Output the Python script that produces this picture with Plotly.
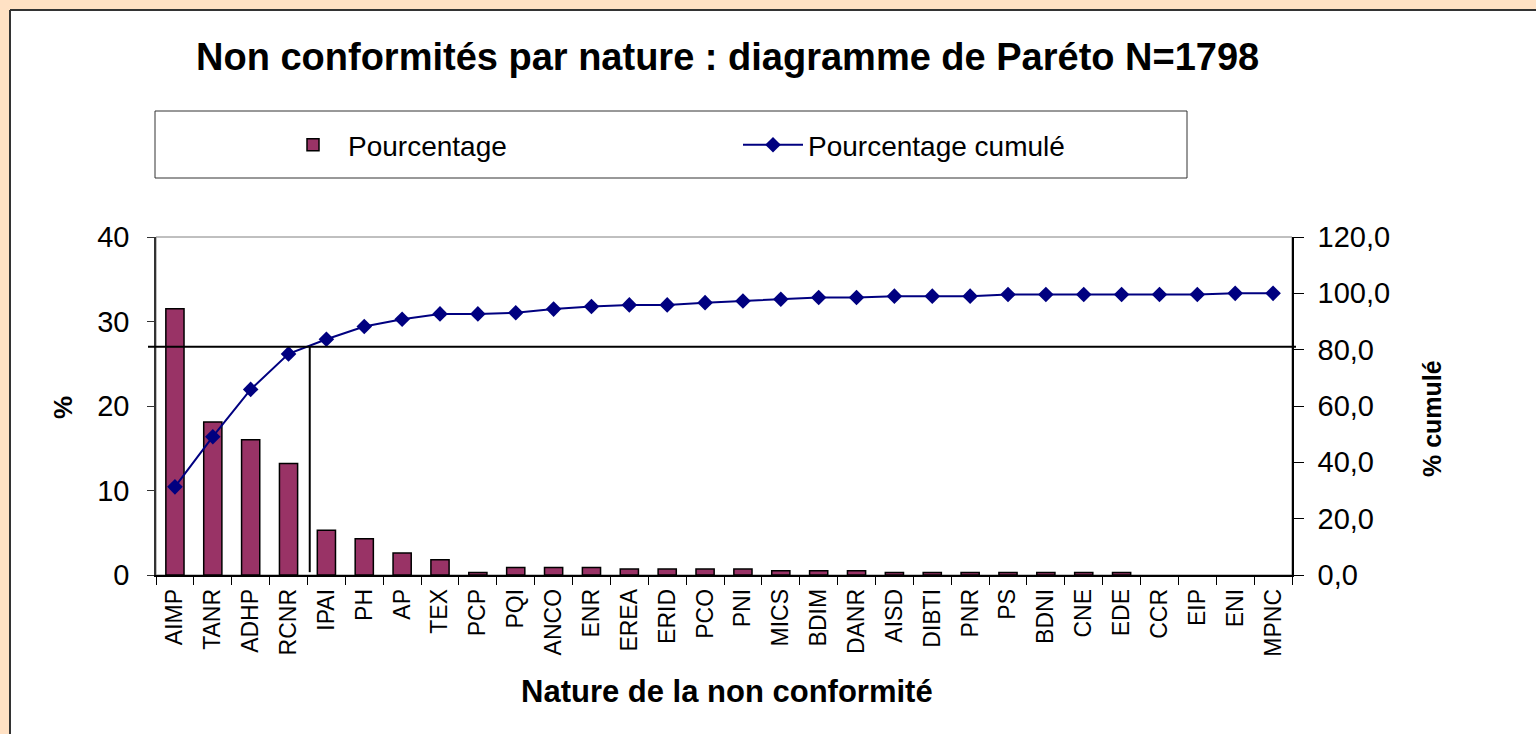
import plotly.graph_objects as go

categories = ["AIMP", "TANR", "ADHP", "RCNR", "IPAI", "PH", "AP", "TEX", "PCP", "PQI",
              "ANCO", "ENR", "EREA", "ERID", "PCO", "PNI", "MICS", "BDIM", "DANR", "AISD",
              "DIBTI", "PNR", "PS", "BDNI", "CNE", "EDE", "CCR", "EIP", "ENI", "MPNC"]
pourcentage = [31.5, 18.1, 16.0, 13.2, 5.3, 4.3, 2.6, 1.8, 0.3, 0.9,
               0.9, 0.9, 0.7, 0.7, 0.7, 0.7, 0.5, 0.5, 0.5, 0.3,
               0.3, 0.3, 0.3, 0.3, 0.3, 0.3, 0.0, 0.0, 0.0, 0.0]
cumule = [31.3, 49.1, 65.9, 78.5, 83.7, 88.2, 90.8, 92.7, 92.7, 93.1,
          94.4, 95.3, 95.9, 95.9, 96.7, 97.3, 97.9, 98.5, 98.5, 99.0,
          99.0, 99.0, 99.6, 99.6, 99.6, 99.6, 99.6, 99.6, 100.0, 100.0]
left_ticks = [0, 10, 20, 30, 40]
right_ticks = [0, 20, 40, 60, 80, 100, 120]
right_labels = ["0,0", "20,0", "40,0", "60,0", "80,0", "100,0", "120,0"]
seuil = 81  # 80 % threshold line (right axis)

FONT = "Liberation Sans, Arial, sans-serif"
W, H = 1536, 734
L, R, T, B = 156, 1292, 237, 575


def px(x):
    return (x - L) / (R - L)


def py(y):
    return (B - y) / (B - T)


outline_widths = [1.5 if v > 0 else 0 for v in pourcentage]

fig = go.Figure()
fig.add_trace(go.Bar(
    x=categories, y=pourcentage, name="Pourcentage",
    marker=dict(color="#993366", line=dict(color="black", width=outline_widths)),
    yaxis="y",
))
fig.add_trace(go.Scatter(
    x=categories, y=cumule, name="Pourcentage cumulé", mode="lines+markers",
    line=dict(color="#000080", width=2),
    marker=dict(symbol="diamond", size=12, color="#000080"),
    yaxis="y2",
))

shapes = [
    # white chart area
    dict(type="rect", xref="paper", yref="paper", x0=px(10), x1=px(W + 5), y0=py(10), y1=py(H + 5),
         fillcolor="white", line=dict(width=0), layer="below"),
    dict(type="line", xref="paper", yref="paper", x0=px(10), x1=px(10), y0=py(10), y1=py(H + 5),
         line=dict(color="#333333", width=2), layer="below"),
    dict(type="line", xref="paper", yref="paper", x0=px(10), x1=px(W + 5), y0=py(10), y1=py(10),
         line=dict(color="#333333", width=2), layer="below"),
    # legend box
    dict(type="rect", xref="paper", yref="paper", x0=px(155), x1=px(1187), y0=py(111), y1=py(178),
         fillcolor="white", line=dict(color="#333333", width=1), layer="below"),
    # plot area border (gray)
    dict(type="rect", xref="paper", yref="paper", x0=0, x1=1, y0=0, y1=1,
         line=dict(color="#808080", width=1), layer="below"),
    # 80% threshold lines
    dict(type="line", xref="paper", yref="y2", x0=px(148), x1=px(1296), y0=seuil, y1=seuil,
         line=dict(color="black", width=2)),
    dict(type="line", xref="x", yref="y2", x0=3.56, x1=3.56, y0=1, y1=seuil,
         line=dict(color="black", width=2)),
]

annotations = [
    dict(text="<b>Non conformités par nature : diagramme de Paréto N=1798</b>",
         xref="paper", yref="paper", x=px(727), y=py(57), showarrow=False,
         font=dict(size=38, color="black", family=FONT), xanchor="center", yanchor="middle"),
    dict(text="<b>%</b>", xref="paper", yref="paper", x=px(63), y=py(408), showarrow=False,
         textangle=-90, font=dict(size=26, color="black", family=FONT), xanchor="center", yanchor="middle"),
    dict(text="<b>% cumulé</b>", xref="paper", yref="paper", x=px(1432), y=py(419), showarrow=False,
         textangle=-90, font=dict(size=25, color="black", family=FONT), xanchor="center", yanchor="middle"),
    dict(text="<b>Nature de la non conformité</b>", xref="paper", yref="paper", x=px(727), y=py(691),
         showarrow=False, font=dict(size=31, color="black", family=FONT), xanchor="center", yanchor="middle"),
]

fig.update_layout(
    width=W, height=H,
    margin=dict(l=L, r=W - R, t=T, b=H - B, pad=0),
    paper_bgcolor="#FFE1C4",
    plot_bgcolor="#FFFFCC",
    font=dict(family=FONT, color="black"),
    bargap=0.52,
    showlegend=True,
    legend=dict(orientation="h", x=px(278), y=py(145), xanchor="left", yanchor="middle",
                bgcolor="rgba(0,0,0,0)", borderwidth=0, font=dict(size=28, family=FONT),
                itemwidth=60, entrywidth=385, entrywidthmode="pixels", traceorder="normal"),
    xaxis=dict(type="category", range=[-0.5, len(categories) - 0.5], tickangle=-90,
               tickfont=dict(size=23, family=FONT),
               showline=True, linecolor="black", linewidth=1.5, ticks="outside", ticklen=8,
               tickcolor="black", tickson="boundaries", showgrid=False, zeroline=False,
               ticklabelstandoff=3),
    yaxis=dict(range=[0, 40], tickvals=left_ticks, tickfont=dict(size=29, family=FONT),
               showline=True, linecolor="#333333", linewidth=1.5, ticks="outside", ticklen=7,
               tickcolor="#333333", showgrid=False, zeroline=False, ticklabelstandoff=12),
    yaxis2=dict(range=[0, 120], tickvals=right_ticks, ticktext=right_labels, overlaying="y",
                side="right", tickfont=dict(size=29, family=FONT),
                showline=True, linecolor="black", linewidth=1.5, ticks="outside", ticklen=10,
                tickcolor="black", showgrid=False, zeroline=False, ticklabelstandoff=8),
    shapes=shapes,
    annotations=annotations,
)

fig.write_html("out.html", config={"displayModeBar": False},
               post_script="document.body.style.margin='0';document.body.style.overflow='hidden';")
